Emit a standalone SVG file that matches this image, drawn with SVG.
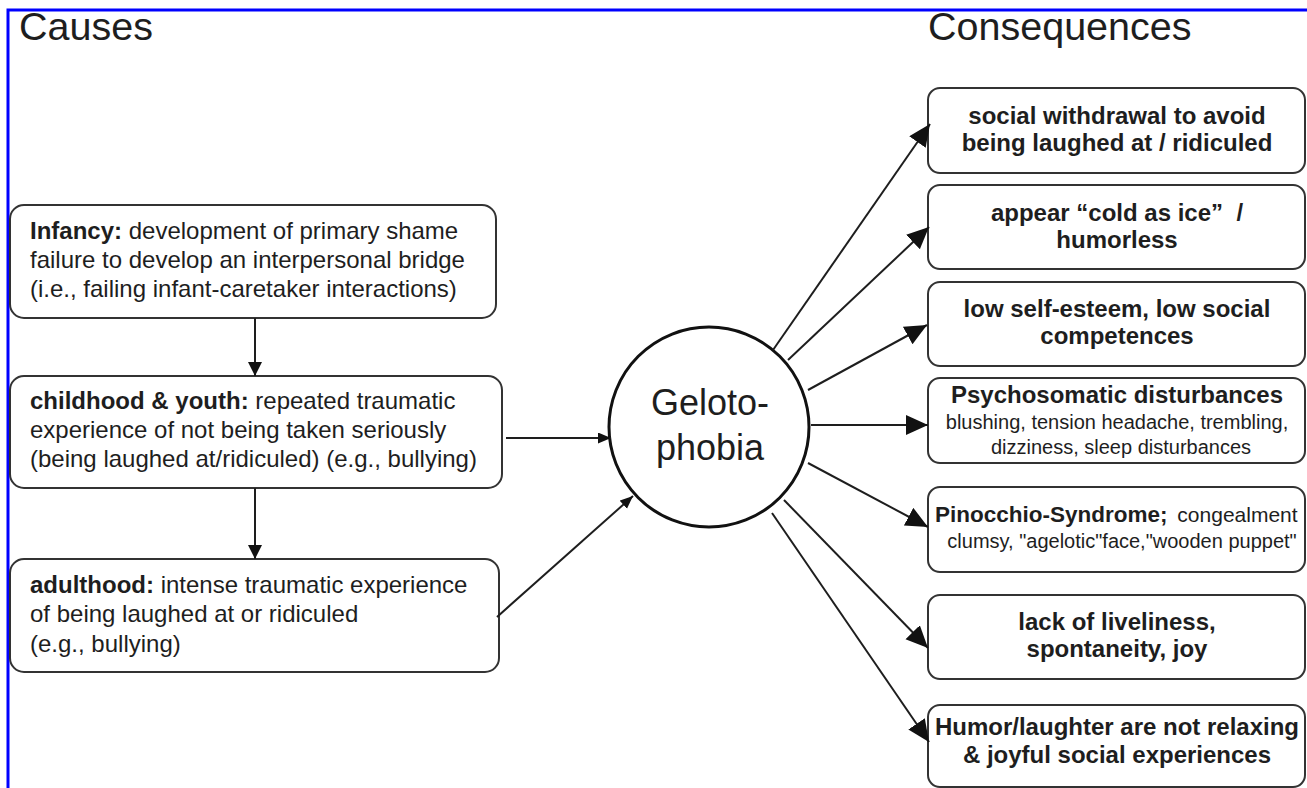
<svg xmlns="http://www.w3.org/2000/svg" width="1307" height="788" viewBox="0 0 1307 788">
<style>
text{font-family:"Liberation Sans",Arial,sans-serif;fill:#1e1e1e}
.title{font-size:39.5px}
.lt{font-size:24px}
.b{font-weight:bold}
.rt{font-size:24px;font-weight:bold;text-anchor:middle}
.sub{font-size:20px;font-weight:normal}
.box{fill:#fff;stroke:#333;stroke-width:2}
.conn line{stroke:#1e1e1e;stroke-width:2}
</style>
<defs>
<marker id="aL" markerUnits="userSpaceOnUse" markerWidth="24" markerHeight="22" refX="22" refY="10" orient="auto"><path d="M0,0 L22,10 L0,20 z" fill="#111"/></marker>
<marker id="aM" markerUnits="userSpaceOnUse" markerWidth="16" markerHeight="16" refX="14" refY="7" orient="auto"><path d="M0,0 L14,7 L0,14 z" fill="#111"/></marker>
<marker id="aS" markerUnits="userSpaceOnUse" markerWidth="14" markerHeight="12" refX="13" refY="5.5" orient="auto"><path d="M0,0 L13,5.5 L0,11 z" fill="#111"/></marker>
</defs>
<rect width="1307" height="788" fill="#fff"/>
<path d="M8,788 L8,10 L1307,10" fill="none" stroke="#0000ff" stroke-width="3"/>
<text class="title" x="19" y="40">Causes</text>
<text class="title" x="928" y="40">Consequences</text>

<g id="infancy">
<rect class="box" x="10" y="205" width="486" height="113" rx="14"/>
<text class="lt" x="30" y="239"><tspan class="b">Infancy:</tspan> development of primary shame</text>
<text class="lt" x="30" y="268">failure to develop an interpersonal bridge</text>
<text class="lt" x="30" y="297">(i.e., failing infant-caretaker interactions)</text>
</g>
<g id="childhood">
<rect class="box" x="10" y="376" width="492" height="112" rx="14"/>
<text class="lt" x="30" y="409"><tspan class="b">childhood &amp; youth:</tspan> repeated traumatic</text>
<text class="lt" x="30" y="438">experience of not being taken seriously</text>
<text class="lt" x="30" y="467">(being laughed at/ridiculed) (e.g., bullying)</text>
</g>
<g id="adulthood">
<rect class="box" x="10" y="559" width="489" height="113" rx="14"/>
<text class="lt" x="30" y="593"><tspan class="b">adulthood:</tspan> intense traumatic experience</text>
<text class="lt" x="30" y="622">of being laughed at or ridiculed</text>
<text class="lt" x="30" y="652">(e.g., bullying)</text>
</g>
<g id="gelotophobia">
<circle cx="709" cy="427" r="100" fill="#fff" stroke="#111" stroke-width="3"/>
<text x="710" y="415" font-size="36" text-anchor="middle">Geloto-</text>
<text x="710" y="460" font-size="36" text-anchor="middle">phobia</text>
</g>

<g id="c1">
<rect class="box" x="928" y="88" width="377" height="85" rx="12"/>
<text class="rt" x="1117" y="124">social withdrawal to avoid</text>
<text class="rt" x="1117" y="151">being laughed at / ridiculed</text>
</g>
<g id="c2">
<rect class="box" x="928" y="185" width="377" height="84" rx="12"/>
<text class="rt" x="1117" y="221" style="white-space:pre">appear “cold as ice”  /</text>
<text class="rt" x="1117" y="248">humorless</text>
</g>
<g id="c3">
<rect class="box" x="928" y="282" width="377" height="84" rx="12"/>
<text class="rt" x="1117" y="317">low self-esteem, low social</text>
<text class="rt" x="1117" y="344">competences</text>
</g>
<g id="c4">
<rect class="box" x="928" y="378" width="377" height="85" rx="12"/>
<text class="rt" x="1117" y="403">Psychosomatic disturbances</text>
<text class="rt sub" x="1117" y="429">blushing, tension headache, trembling,</text>
<text class="rt sub" x="1121" y="454">dizziness, sleep disturbances</text>
</g>
<g id="c5">
<rect class="box" x="928" y="487" width="377" height="85" rx="12"/>
<text x="935" y="522"><tspan class="b" font-size="22.5">Pinocchio-Syndrome;</tspan><tspan font-size="21" dx="4"> congealment</tspan></text>
<text class="rt sub" x="1122" y="548">clumsy, "agelotic"face,"wooden puppet"</text>
</g>
<g id="c6">
<rect class="box" x="928" y="595" width="377" height="84" rx="12"/>
<text class="rt" x="1117" y="630">lack of liveliness,</text>
<text class="rt" x="1117" y="657">spontaneity, joy</text>
</g>
<g id="c7">
<rect class="box" x="928" y="705" width="377" height="82" rx="12"/>
<text class="rt" x="1117" y="735">Humor/laughter are not relaxing</text>
<text class="rt" x="1117" y="763">&amp; joyful social experiences</text>
</g>

<g id="connectors" class="conn">
<line x1="255" y1="318" x2="255" y2="376" marker-end="url(#aM)"/>
<line x1="255" y1="488" x2="255" y2="559" marker-end="url(#aM)"/>
<line x1="506" y1="438" x2="611" y2="438" marker-end="url(#aS)"/>
<line x1="497" y1="617" x2="633" y2="496" marker-end="url(#aS)"/>
<line x1="773" y1="350" x2="930" y2="124" marker-end="url(#aL)"/>
<line x1="788" y1="360" x2="929" y2="227" marker-end="url(#aL)"/>
<line x1="808" y1="390" x2="927" y2="325" marker-end="url(#aL)"/>
<line x1="811" y1="425" x2="928" y2="425" marker-end="url(#aL)"/>
<line x1="808" y1="463" x2="928" y2="527" marker-end="url(#aL)"/>
<line x1="784" y1="500" x2="928" y2="648" marker-end="url(#aL)"/>
<line x1="772" y1="513" x2="929" y2="742" marker-end="url(#aL)"/>
</g>
</svg>
